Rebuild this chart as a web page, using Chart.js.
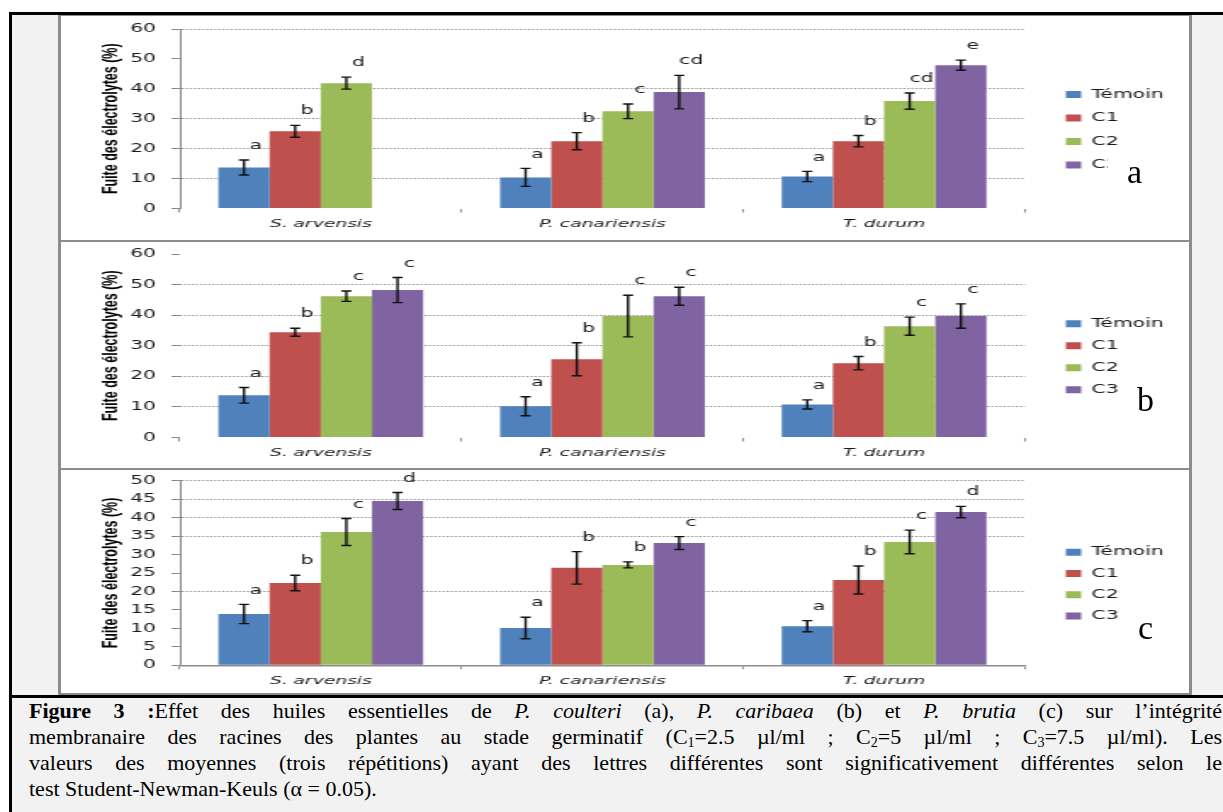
<!DOCTYPE html>
<html>
<head>
<meta charset="utf-8">
<script src="https://cdn.jsdelivr.net/npm/chart.js@4.4.1/dist/chart.umd.min.js"></script>
<style>
  html, body { margin: 0; padding: 0; background: #fff; }
  body { width: 1223px; height: 812px; overflow: hidden; position: relative; }
  #frame { position: absolute; left: 9px; top: 12px; width: 1300px; height: 900px;
           border-left: 3px solid #000; border-top: 3px solid #000; background: #f2f2f2; }
  #box { position: absolute; left: 58px; top: 15px; width: 1128px; height: 677px; background: #fff;
         border-left: 3px solid #8c8c8c; border-right: 3px solid #8c8c8c;
         border-top: 1px solid #8c8c8c; border-bottom: 2px solid #8c8c8c; }
  .panel { position: absolute; left: 0; }
  .panel canvas { display: block; transform-origin: 0 0; transform: scaleX(1.6988); }
  .sep { position: absolute; left: 0; width: 1128px; height: 2px; background: #8c8c8c; }
  .tag { position: absolute; font: 34px 'Liberation Serif', serif; line-height: 34px; color: #000; }
  .cover { position: absolute; background: #fff; }
  #caption { position: absolute; left: 9px; top: 695px; width: 1300px; height: 200px; border-top: 3px solid #000; }
  #caption .txt { position: absolute; left: 20px; top: 0px; width: 1193px;
                  font: 22px 'Liberation Serif', serif; line-height: 26px; color: #000; }
  .j { text-align: justify; text-align-last: justify; white-space: nowrap; }
  sub { font-size: 14px; line-height: 0; vertical-align: -3px; }
</style>
</head>
<body>
<div id="frame"></div>
<div id="box">
  <div class="panel" style="top:0px"><canvas id="chartA" width="664" height="224"></canvas></div>
  <div class="sep" style="top:224px"></div>
  <div class="panel" style="top:226px"><canvas id="chartB" width="664" height="226"></canvas></div>
  <div class="sep" style="top:452px"></div>
  <div class="panel" style="top:454px"><canvas id="chartC" width="664" height="223"></canvas></div>
</div>
<div class="cover" style="left:1108px; top:157px; width:42px; height:32px"></div>
<div class="tag" style="left:1127px; top:155px">a</div>
<div class="tag" style="left:1137px; top:383px">b</div>
<div class="tag" style="left:1138px; top:611px">c</div>
<div id="caption">
  <div class="txt">
    <div class="j"><b>Figure 3 :</b>Effet des huiles essentielles de <i>P. coulteri</i> (a), <i>P. caribaea</i> (b) et <i>P. brutia</i> (c) sur l’intégrité</div>
    <div class="j">membranaire des racines des plantes au stade germinatif (C<sub>1</sub>=2.5 µl/ml ; C<sub>2</sub>=5 µl/ml ; C<sub>3</sub>=7.5 µl/ml). Les</div>
    <div class="j">valeurs des moyennes (trois répétitions) ayant des lettres différentes sont significativement différentes selon le</div>
    <div>test Student-Newman-Keuls (α = 0.05).</div>
  </div>
</div>

<script>
// categories and series
const categories = ['S. arvensis', 'P. canariensis', 'T. durum'];
const seriesNames = ['Témoin', 'C1', 'C2', 'C3'];
const seriesColors = ['#4f81bd', '#c0504d', '#9bbb59', '#8064a2'];

// (a) P. coulteri  - one row per series (Témoin, C1, C2, C3)
const meansA   = [[13.7, 10.4, 10.7], [25.8, 22.5, 22.5], [41.9, 32.5, 35.9], [null, 38.9, 47.9]];
const errorsA  = [[2.5, 3.0, 1.7], [2.0, 2.85, 1.9], [2.0, 2.45, 2.7], [null, 5.6, 1.7]];
const lettersA = [['a', 'a', 'a'], ['b', 'b', 'b'], ['d', 'c', 'cd'], ['', 'cd', 'e']];

// (b) P. caribaea
const meansB   = [[13.8, 10.2, 10.8], [34.4, 25.6, 24.3], [46.2, 39.7, 36.4], [48.2, 46.2, 39.7]];
const errorsB  = [[2.55, 3.1, 1.5], [1.3, 5.4, 2.2], [1.7, 6.8, 2.95], [4.1, 2.95, 4.0]];
const lettersB = [['a', 'a', 'a'], ['b', 'b', 'b'], ['c', 'c', 'c'], ['c', 'c', 'c']];

// (c) P. brutia
const meansC   = [[13.9, 10.1, 10.6], [22.3, 26.4, 23.1], [36.1, 27.2, 33.4], [44.5, 33.1, 41.5]];
const errorsC  = [[2.6, 2.9, 1.5], [2.1, 4.4, 3.8], [3.65, 0.8, 3.2], [2.3, 1.75, 1.55]];
const lettersC = [['a', 'a', 'a'], ['b', 'b', 'b'], ['c', 'b', 'c'], ['d', 'c', 'd']];

const yTitle = 'Fuite des électrolytes (%)';

// layout in canvas units (canvas is stretched horizontally like the original figure)
const PLOT_RIGHT = 567.4;
const LEGEND_X = 591.5;
const LEGEND_LIFT = 2.5;
const GRID = '#8c8c8c';
const TEXT = '#1a1a1a';

const errorBars = {
    id: 'errorBars',
    afterDatasetsDraw(chart) {
        const ctx = chart.ctx;
        const y = chart.scales.y;
        chart.data.datasets.forEach((ds, di) => {
            const meta = chart.getDatasetMeta(di);
            meta.data.forEach((bar, i) => {
                const v = ds.data[i];
                if (v === null || v === undefined) return;
                const e = ds.errors[i];
                const yTop = y.getPixelForValue(v + e);
                const yBot = y.getPixelForValue(v - e);
                ctx.save();
                ctx.strokeStyle = '#111';
                ctx.lineWidth = 1.4;
                ctx.beginPath();
                ctx.moveTo(bar.x, yTop); ctx.lineTo(bar.x, yBot);
                ctx.moveTo(bar.x - 3, yTop); ctx.lineTo(bar.x + 3, yTop);
                ctx.moveTo(bar.x - 3, yBot); ctx.lineTo(bar.x + 3, yBot);
                ctx.stroke();
                ctx.fillStyle = TEXT;
                ctx.font = '12px "DejaVu Sans"';
                ctx.textAlign = 'center';
                ctx.textBaseline = 'middle';
                ctx.fillText(ds.letters[i], bar.x + 7, yTop - 14);
                ctx.restore();
            });
        });
    }
};

// keep the plot ending before the legend column like in the original
const legendSpot = {
    id: 'legendSpot',
    beforeInit(chart) {
        const legend = chart.legend;
        if (!legend) return;
        const fit = legend.fit;
        legend.fit = function () {
            fit.call(this);
            this.width = chart.width - PLOT_RIGHT;
        };
    },
    afterLayout(chart) {
        const legend = chart.legend;
        legend.left = LEGEND_X - legend.options.labels.padding;
        legend.top -= LEGEND_LIFT;
        legend.bottom -= LEGEND_LIFT;
    }
};

function makePanel(id, means, errors, letters, o) {
    const ctx = document.getElementById(id).getContext('2d');
    return new Chart(ctx, {
        type: 'bar',
        data: {
            labels: categories,
            datasets: seriesNames.map((name, s) => ({
                label: name,
                data: means[s],
                errors: errors[s],
                letters: letters[s],
                backgroundColor: seriesColors[s],
                borderWidth: 0
            }))
        },
        options: {
            responsive: false,
            animation: false,
            events: [],
            categoryPercentage: 0.727,
            barPercentage: 1,
            layout: { padding: { left: 19, right: 0, top: o.padTop, bottom: o.padBottom } },
            plugins: {
                tooltip: { enabled: false },
                legend: {
                    position: 'right',
                    align: 'center',
                    labels: {
                        boxWidth: 9,
                        boxHeight: 7,
                        padding: o.legendPad,
                        color: TEXT,
                        font: { family: 'DejaVu Sans', size: 12 }
                    }
                }
            },
            scales: {
                x: {
                    grid: { display: true, drawOnChartArea: false, drawTicks: true, tickLength: 4, color: GRID, tickColor: GRID },
                    border: { display: o.xLine, color: GRID, width: 1.5 },
                    ticks: { color: TEXT, padding: 5, font: { family: 'DejaVu Sans', size: 11, style: 'italic' } }
                },
                y: {
                    min: 0,
                    max: o.yMax,
                    ticks: { stepSize: o.yStep, color: TEXT, padding: 9, font: { family: 'DejaVu Sans', size: 12 } },
                    grid: {
                        color: (c) => (c.tick && o.hiddenGrid.includes(c.tick.value)) ? 'rgba(0,0,0,0)' : GRID,
                        tickColor: GRID,
                        tickLength: 5,
                        tickBorderDash: [],
                        lineWidth: 1
                    },
                    border: { display: o.yLine, color: GRID, width: 1, dash: [1.2, 1.2] },
                    title: {
                        display: true,
                        text: yTitle,
                        color: '#000',
                        padding: { top: 3, bottom: 3 },
                        font: { family: 'Liberation Sans', size: 12.5, weight: 'bold' }
                    },
                    afterFit(scale) {
                        scale.width = 51;
                        scale.paddingTop = 0;
                        scale.paddingBottom = 0;
                    }
                }
            }
        },
        plugins: [errorBars, legendSpot]
    });
}

makePanel('chartA', meansA, errorsA, lettersA,
    { yMax: 60, yStep: 10, hiddenGrid: [0, 50], yLine: true, xLine: false, legendPad: 11.5, padTop: 13, padBottom: 4.3 });
makePanel('chartB', meansB, errorsB, lettersB,
    { yMax: 60, yStep: 10, hiddenGrid: [0, 60], yLine: false, xLine: false, legendPad: 10, padTop: 12, padBottom: 3.3 });
makePanel('chartC', meansC, errorsC, lettersC,
    { yMax: 50, yStep: 5, hiddenGrid: [0, 5, 10, 15, 25, 30], yLine: true, xLine: true, legendPad: 9.3, padTop: 10.7, padBottom: 0.5 });
</script>
</body>
</html>
